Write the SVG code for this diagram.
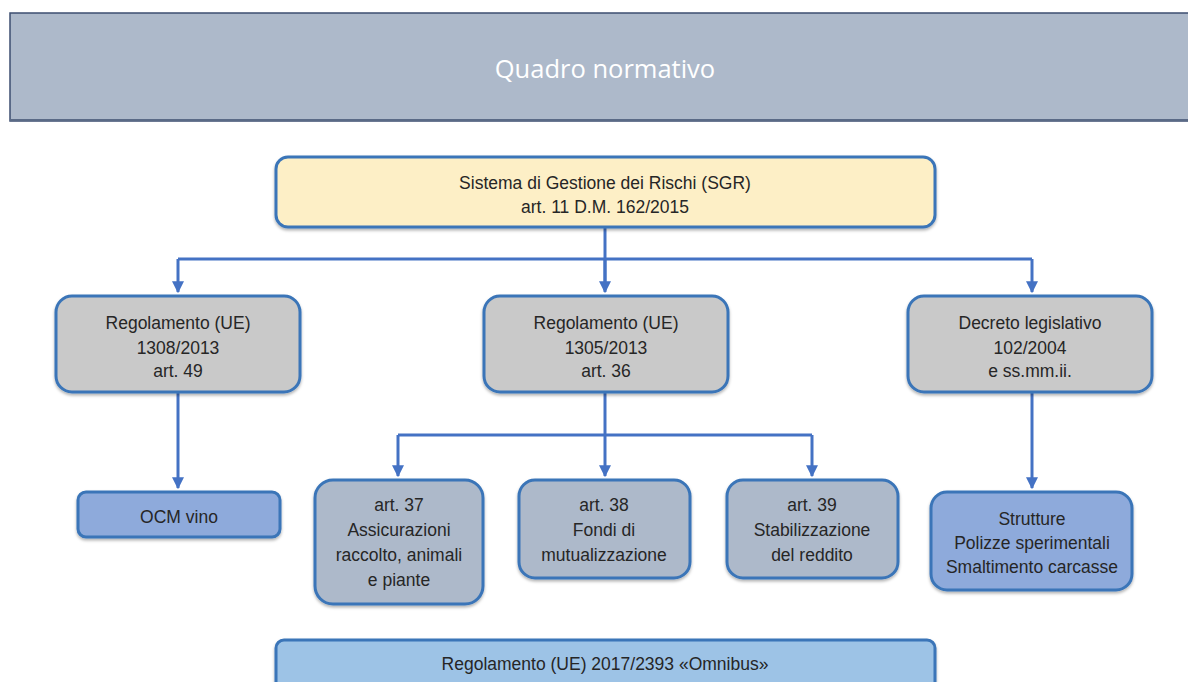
<svg xmlns="http://www.w3.org/2000/svg" width="1188" height="682" viewBox="0 0 1188 682">
<defs>
<filter id="sh" x="-10%" y="-10%" width="120%" height="130%">
<feDropShadow dx="0" dy="2" stdDeviation="1.5" flood-color="#000" flood-opacity="0.3"/>
</filter>
<marker id="ah" viewBox="0 0 10 10" refX="9" refY="5" markerWidth="4" markerHeight="4" orient="auto" markerUnits="strokeWidth">
<path d="M0,0 L10,5 L0,10 z" fill="#4472c4"/>
</marker>
</defs>
<style>
.box{stroke:#3a75b8;stroke-width:3;filter:url(#sh)}
.t{font-family:"Liberation Sans",Arial,sans-serif;font-size:17.5px;fill:#262626;text-anchor:middle}
.c{fill:none;stroke:#4472c4;stroke-width:3}
</style>
<rect width="1188" height="682" fill="#fff"/>
<g id="header">
<rect x="10" y="13" width="1190" height="108" fill="#adb9ca" stroke="#3c4e70" stroke-width="1.5"/>
<line x1="10" y1="120" x2="1188" y2="120" stroke="#5a6a86" stroke-width="2"/>
<text x="605" y="78" font-family="'Open Sans',sans-serif" font-size="25.5px" fill="#fff" text-anchor="middle">Quadro normativo</text>
</g>
<g id="connectors">
<path class="c" d="M605,227 V290"/>
<path class="c" d="M178,259 H1032"/>
<path class="c" d="M178,259 V292" marker-end="url(#ah)"/>
<path class="c" d="M1032,259 V292" marker-end="url(#ah)"/>
<path class="c" d="M605,259 V292" marker-end="url(#ah)"/>
<path class="c" d="M178,392 V488" marker-end="url(#ah)"/>
<path class="c" d="M1032,392 V488" marker-end="url(#ah)"/>
<path class="c" d="M605,392 V476" marker-end="url(#ah)"/>
<path class="c" d="M398,435 H812"/>
<path class="c" d="M398,435 V476" marker-end="url(#ah)"/>
<path class="c" d="M812,435 V476" marker-end="url(#ah)"/>
</g>
<g id="sgr">
<rect class="box" x="276" y="157" width="659" height="70" rx="12" fill="#fdefc6"/>
<text class="t" x="605" y="189">Sistema di Gestione dei Rischi (SGR)</text>
<text class="t" x="605" y="213">art. 11 D.M. 162/2015</text>
</g>
<g id="reg1308">
<rect class="box" x="56" y="296" width="244" height="96" rx="16" fill="#c9c9c9"/>
<text class="t" x="178" y="329">Regolamento (UE)</text>
<text class="t" x="178" y="354">1308/2013</text>
<text class="t" x="178" y="377">art. 49</text>
</g>
<g id="reg1305">
<rect class="box" x="484" y="296" width="244" height="96" rx="16" fill="#c9c9c9"/>
<text class="t" x="606" y="329">Regolamento (UE)</text>
<text class="t" x="606" y="354">1305/2013</text>
<text class="t" x="606" y="377">art. 36</text>
</g>
<g id="dlgs">
<rect class="box" x="908" y="296" width="244" height="96" rx="16" fill="#c9c9c9"/>
<text class="t" x="1030" y="329">Decreto legislativo</text>
<text class="t" x="1030" y="354">102/2004</text>
<text class="t" x="1030" y="377">e ss.mm.ii.</text>
</g>
<g id="ocm">
<rect class="box" x="78" y="492" width="202" height="45" rx="8" fill="#8eaadb"/>
<text class="t" x="179" y="523">OCM vino</text>
</g>
<g id="art37">
<rect class="box" x="315" y="480" width="168" height="124" rx="18" fill="#adb9ca"/>
<text class="t" x="399" y="511">art. 37</text>
<text class="t" x="399" y="536">Assicurazioni</text>
<text class="t" x="399" y="561">raccolto, animali</text>
<text class="t" x="399" y="586">e piante</text>
</g>
<g id="art38">
<rect class="box" x="519" y="480" width="171" height="98" rx="16" fill="#adb9ca"/>
<text class="t" x="604" y="511">art. 38</text>
<text class="t" x="604" y="536">Fondi di</text>
<text class="t" x="604" y="561">mutualizzazione</text>
</g>
<g id="art39">
<rect class="box" x="727" y="480" width="171" height="98" rx="16" fill="#adb9ca"/>
<text class="t" x="812" y="511">art. 39</text>
<text class="t" x="812" y="536">Stabilizzazione</text>
<text class="t" x="812" y="561">del reddito</text>
</g>
<g id="strutture">
<rect class="box" x="931" y="492" width="201" height="98" rx="16" fill="#8eaadb"/>
<text class="t" x="1032" y="525">Strutture</text>
<text class="t" x="1032" y="549">Polizze sperimentali</text>
<text class="t" x="1032" y="573">Smaltimento carcasse</text>
</g>
<g id="omnibus">
<rect class="box" x="276" y="640" width="659" height="60" rx="8" fill="#9dc3e6"/>
<text class="t" x="605" y="670">Regolamento (UE) 2017/2393 «Omnibus»</text>
</g>
</svg>
